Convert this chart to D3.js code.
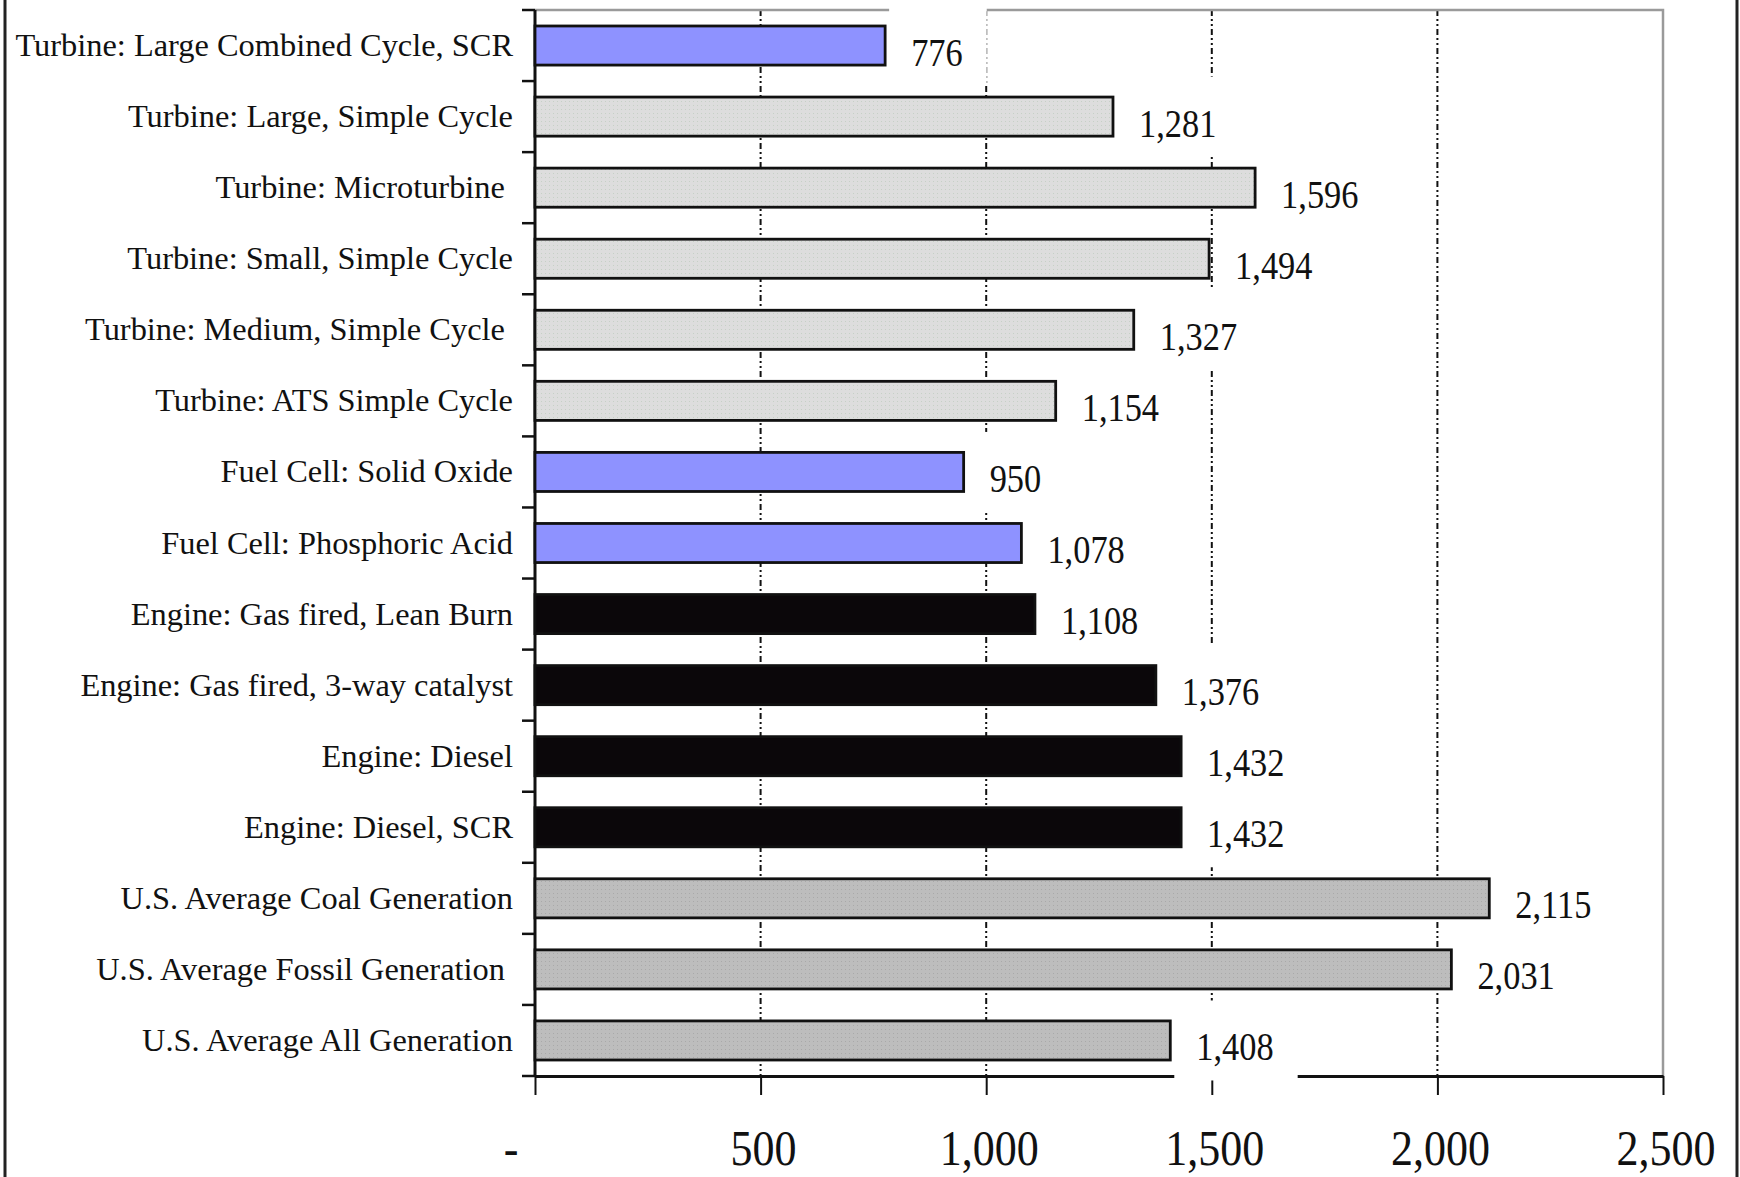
<!DOCTYPE html>
<html>
<head>
<meta charset="utf-8">
<script src="https://cdn.jsdelivr.net/npm/d3@7/dist/d3.min.js"></script>
<style>
  html, body { margin: 0; padding: 0; background: #fff; }
  svg { display: block; }
  text { font-family: "Liberation Serif", "Times New Roman", serif; fill: #111; white-space: pre; }
</style>
</head>
<body>
<script>
// Emission rates by generation technology
const categories = [
  "Turbine: Large Combined Cycle, SCR",
  "Turbine: Large, Simple Cycle",
  "Turbine: Microturbine ",
  "Turbine: Small, Simple Cycle",
  "Turbine: Medium, Simple Cycle ",
  "Turbine: ATS Simple Cycle",
  "Fuel Cell: Solid Oxide",
  "Fuel Cell: Phosphoric Acid",
  "Engine: Gas fired, Lean Burn",
  "Engine: Gas fired, 3-way catalyst",
  "Engine: Diesel",
  "Engine: Diesel, SCR",
  "U.S. Average Coal Generation",
  "U.S. Average Fossil Generation ",
  "U.S. Average All Generation"
];
const values = [776, 1281, 1596, 1494, 1327, 1154, 950, 1078, 1108, 1376, 1432, 1432, 2115, 2031, 1408];
const groups = ["highlight", "turbine", "turbine", "turbine", "turbine", "turbine",
                "highlight", "highlight", "engine", "engine", "engine", "engine",
                "average", "average", "average"];
const xTicks = [0, 500, 1000, 1500, 2000, 2500];

const W = 1740, H = 1177;
const svg = d3.select("body").append("svg").attr("width", W).attr("height", H);

// fine dot textures for the grey bars
const defs = svg.append("defs");
function dotPattern(id, base, dot) {
  const p = defs.append("pattern").attr("id", id).attr("patternUnits", "userSpaceOnUse")
    .attr("width", 4).attr("height", 4);
  p.append("rect").attr("width", 4).attr("height", 4).attr("fill", base);
  p.append("rect").attr("x", 1).attr("y", 1).attr("width", 1).attr("height", 1).attr("fill", dot);
}
dotPattern("dotLight", "#dddddd", "#c6d0c6");
dotPattern("dotDark", "#bdbdbd", "#a9a9a9");
const fills = { highlight: "#8e92ff", turbine: "url(#dotLight)", engine: "#0b070a", average: "url(#dotDark)" };

const x = d3.scaleLinear().domain([0, 2500]).range([535, 1663]);
const y = d3.scaleBand().domain(categories).range([10, 1076]).paddingInner(0.45).paddingOuter(0.225);
const [plotTop, plotBottom] = y.range();
const step = y.step();

// page frame
svg.append("line").attr("x1", 5).attr("x2", 5).attr("y1", 0).attr("y2", H)
  .attr("stroke", "#222").attr("stroke-width", 3);
svg.append("line").attr("x1", 1737).attr("x2", 1737).attr("y1", 0).attr("y2", H)
  .attr("stroke", "#222").attr("stroke-width", 3);

// vertical dash-dot gridlines
svg.append("g").selectAll("line").data(xTicks.filter(d => d > 0 && d < 2500)).join("line")
  .attr("x1", d => x(d)).attr("x2", d => x(d)).attr("y1", plotTop).attr("y2", plotBottom)
  .attr("stroke", "#111").attr("stroke-width", 2).attr("stroke-dasharray", "6 3 2 3 2 3");

// plot frame (top and right)
svg.append("path")
  .attr("d", `M${x(0)},${plotTop}H${x(2500)}V${plotBottom}`)
  .attr("fill", "none").attr("stroke", "#9a9a9a").attr("stroke-width", 2.5);

// x axis
const xAxis = d3.axisBottom(x).tickValues(xTicks).tickSize(19).tickSizeOuter(0)
  .tickFormat(d => d === 0 ? "-" : d3.format(",")(d));
const gx = svg.append("g").attr("transform", `translate(0,${plotBottom})`).call(xAxis);
gx.select(".domain").attr("stroke", "#111").attr("stroke-width", 3);
gx.selectAll(".tick line").attr("stroke", "#111").attr("stroke-width", 2);
gx.selectAll(".tick text").remove();

// category axis with ticks on band boundaries
svg.append("line").attr("x1", x(0)).attr("x2", x(0)).attr("y1", plotTop).attr("y2", plotBottom)
  .attr("stroke", "#111").attr("stroke-width", 3);
svg.append("g").selectAll("line").data(d3.range(categories.length + 1)).join("line")
  .attr("x1", x(0) - 13).attr("x2", x(0))
  .attr("y1", i => plotTop + i * step).attr("y2", i => plotTop + i * step)
  .attr("stroke", "#111").attr("stroke-width", 2.5);

// tick labels
const tickSX = 0.88;
svg.append("g").selectAll("text").data(xTicks).join("text")
  .attr("transform", d => `translate(${x(d) + (d === 0 ? -24 : 3)},1165) scale(${tickSX},1)`)
  .attr("text-anchor", "middle").attr("font-size", 50)
  .text(d => d === 0 ? "-" : d3.format(",")(d));

// category labels
svg.append("g").selectAll("text").data(categories).join("text")
  .attr("x", x(0) - 22).attr("y", d => y(d) + y.bandwidth() / 2 + 10.5)
  .attr("text-anchor", "end").attr("font-size", 32.4)
  .text(d => d);

// value labels with opaque boxes behind them
const labelSX = 0.86;
const labels = svg.append("g");
categories.forEach((c, i) => {
  const v = values[i];
  const cy = y(c) + y.bandwidth() / 2;
  const g = labels.append("g");
  const box = g.append("rect").attr("fill", "#fff");
  const t = g.append("text")
    .attr("transform", `translate(${x(v) + 26},${cy + 20}) scale(${labelSX},1)`)
    .attr("font-size", 40)
    .text(d3.format(",")(v));
  const w = t.node().getComputedTextLength() * labelSX;
  box.attr("x", x(v) + 4).attr("width", w + 22 + 24)
     .attr("y", cy - 40).attr("height", 80);
});

// bars
svg.append("g").selectAll("rect").data(categories).join("rect")
  .attr("x", x(0)).attr("y", d => y(d))
  .attr("width", (d, i) => x(values[i]) - x(0))
  .attr("height", y.bandwidth())
  .attr("fill", (d, i) => fills[groups[i]])
  .attr("stroke", "#111").attr("stroke-width", 2.8);
</script>
</body>
</html>
